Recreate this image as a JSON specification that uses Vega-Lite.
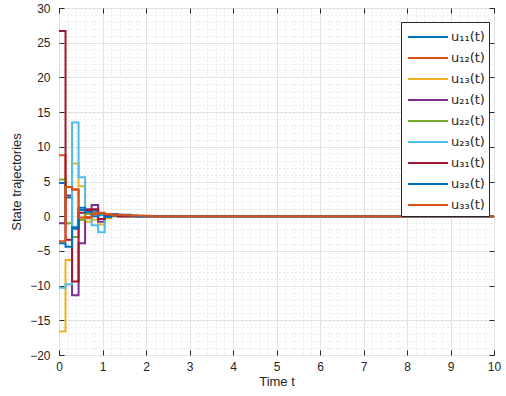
{
  "$schema": "https://vega.github.io/schema/vega-lite/v6.json",
  "width": 435,
  "height": 347,
  "autosize": {"type": "none"},
  "padding": {"left": 59, "top": 8, "right": 12, "bottom": 41},
  "background": "white",
  "config": {
    "font": "Liberation Sans",
    "view": {"stroke": "#262626", "strokeWidth": 1}
  },
  "datasets": {
    "traj": [
      {"s":"u₁₁(t)","t":0,"v":4.8},{"s":"u₁₁(t)","t":0.15,"v":2.7},{"s":"u₁₁(t)","t":0.3,"v":-1.8},{"s":"u₁₁(t)","t":0.45,"v":0.9},{"s":"u₁₁(t)","t":0.6,"v":0.6},{"s":"u₁₁(t)","t":0.75,"v":0.8},{"s":"u₁₁(t)","t":0.9,"v":0.2},{"s":"u₁₁(t)","t":1.05,"v":-0.2},{"s":"u₁₁(t)","t":1.2,"v":0.1},{"s":"u₁₁(t)","t":1.35,"v":0.05},{"s":"u₁₁(t)","t":1.5,"v":0},{"s":"u₁₁(t)","t":10,"v":0},
      {"s":"u₁₂(t)","t":0,"v":8.8},{"s":"u₁₂(t)","t":0.15,"v":4.2},{"s":"u₁₂(t)","t":0.3,"v":3.9},{"s":"u₁₂(t)","t":0.45,"v":-0.5},{"s":"u₁₂(t)","t":0.6,"v":-0.3},{"s":"u₁₂(t)","t":0.75,"v":0.5},{"s":"u₁₂(t)","t":0.9,"v":0.4},{"s":"u₁₂(t)","t":1.05,"v":0.2},{"s":"u₁₂(t)","t":1.2,"v":0.1},{"s":"u₁₂(t)","t":1.35,"v":0.05},{"s":"u₁₂(t)","t":1.5,"v":0},{"s":"u₁₂(t)","t":10,"v":0},
      {"s":"u₁₃(t)","t":0,"v":-16.6},{"s":"u₁₃(t)","t":0.15,"v":-6.3},{"s":"u₁₃(t)","t":0.3,"v":7.6},{"s":"u₁₃(t)","t":0.45,"v":4.3},{"s":"u₁₃(t)","t":0.6,"v":-0.8},{"s":"u₁₃(t)","t":0.75,"v":-0.5},{"s":"u₁₃(t)","t":0.9,"v":-1.2},{"s":"u₁₃(t)","t":1.05,"v":-0.3},{"s":"u₁₃(t)","t":1.2,"v":0.2},{"s":"u₁₃(t)","t":1.35,"v":0.1},{"s":"u₁₃(t)","t":1.5,"v":0},{"s":"u₁₃(t)","t":10,"v":0},
      {"s":"u₂₁(t)","t":0,"v":-1.0},{"s":"u₂₁(t)","t":0.15,"v":3.0},{"s":"u₂₁(t)","t":0.3,"v":-11.4},{"s":"u₂₁(t)","t":0.45,"v":-3.9},{"s":"u₂₁(t)","t":0.6,"v":1.0},{"s":"u₂₁(t)","t":0.75,"v":1.6},{"s":"u₂₁(t)","t":0.9,"v":-0.8},{"s":"u₂₁(t)","t":1.05,"v":0.3},{"s":"u₂₁(t)","t":1.2,"v":0.1},{"s":"u₂₁(t)","t":1.35,"v":0},{"s":"u₂₁(t)","t":10,"v":0},
      {"s":"u₂₂(t)","t":0,"v":5.3},{"s":"u₂₂(t)","t":0.15,"v":-1.0},{"s":"u₂₂(t)","t":0.3,"v":-3.0},{"s":"u₂₂(t)","t":0.45,"v":-0.5},{"s":"u₂₂(t)","t":0.6,"v":0.3},{"s":"u₂₂(t)","t":0.75,"v":0.4},{"s":"u₂₂(t)","t":0.9,"v":0.3},{"s":"u₂₂(t)","t":1.05,"v":0.1},{"s":"u₂₂(t)","t":1.2,"v":0},{"s":"u₂₂(t)","t":10,"v":0},
      {"s":"u₂₃(t)","t":0,"v":-10.3},{"s":"u₂₃(t)","t":0.15,"v":-9.8},{"s":"u₂₃(t)","t":0.3,"v":13.5},{"s":"u₂₃(t)","t":0.45,"v":5.6},{"s":"u₂₃(t)","t":0.6,"v":0.8},{"s":"u₂₃(t)","t":0.75,"v":-1.3},{"s":"u₂₃(t)","t":0.9,"v":-2.3},{"s":"u₂₃(t)","t":1.05,"v":0.2},{"s":"u₂₃(t)","t":1.2,"v":0.1},{"s":"u₂₃(t)","t":1.35,"v":0},{"s":"u₂₃(t)","t":10,"v":0},
      {"s":"u₃₁(t)","t":0,"v":26.7},{"s":"u₃₁(t)","t":0.15,"v":-3.4},{"s":"u₃₁(t)","t":0.3,"v":-9.4},{"s":"u₃₁(t)","t":0.45,"v":0.5},{"s":"u₃₁(t)","t":0.6,"v":0.9},{"s":"u₃₁(t)","t":0.75,"v":1.0},{"s":"u₃₁(t)","t":0.9,"v":-0.4},{"s":"u₃₁(t)","t":1.05,"v":0.2},{"s":"u₃₁(t)","t":1.2,"v":0.1},{"s":"u₃₁(t)","t":1.35,"v":0},{"s":"u₃₁(t)","t":10,"v":0},
      {"s":"u₃₂(t)","t":0,"v":-3.9},{"s":"u₃₂(t)","t":0.15,"v":-4.4},{"s":"u₃₂(t)","t":0.3,"v":-1.6},{"s":"u₃₂(t)","t":0.45,"v":1.2},{"s":"u₃₂(t)","t":0.6,"v":0.6},{"s":"u₃₂(t)","t":0.75,"v":0.0},{"s":"u₃₂(t)","t":0.9,"v":0.4},{"s":"u₃₂(t)","t":1.05,"v":-0.1},{"s":"u₃₂(t)","t":1.2,"v":0.3},{"s":"u₃₂(t)","t":1.35,"v":0.2},{"s":"u₃₂(t)","t":1.5,"v":0.2},{"s":"u₃₂(t)","t":1.65,"v":0.1},{"s":"u₃₂(t)","t":1.8,"v":0},{"s":"u₃₂(t)","t":10,"v":0},
      {"s":"u₃₃(t)","t":0,"v":-3.6},{"s":"u₃₃(t)","t":0.15,"v":4.2},{"s":"u₃₃(t)","t":0.3,"v":3.8},{"s":"u₃₃(t)","t":0.45,"v":-0.2},{"s":"u₃₃(t)","t":0.6,"v":-0.1},{"s":"u₃₃(t)","t":0.75,"v":0.3},{"s":"u₃₃(t)","t":0.9,"v":0.5},{"s":"u₃₃(t)","t":1.05,"v":0.3},{"s":"u₃₃(t)","t":1.2,"v":0.2},{"s":"u₃₃(t)","t":1.35,"v":0.2},{"s":"u₃₃(t)","t":1.5,"v":0.15},{"s":"u₃₃(t)","t":1.65,"v":0.1},{"s":"u₃₃(t)","t":1.8,"v":0.1},{"s":"u₃₃(t)","t":1.95,"v":0.05},{"s":"u₃₃(t)","t":2.1,"v":0},{"s":"u₃₃(t)","t":10,"v":0}
    ]
  },
  "data": {"name": "traj"},
  "resolve": {"axis": {"x": "independent", "y": "independent"}},
  "layer": [
    {
      "mark": {"type": "line", "interpolate": "step-after", "strokeWidth": 2, "clip": true},
      "encoding": {
        "x": {
          "field": "t", "type": "quantitative",
          "scale": {"domain": [0, 10], "nice": false, "zero": false},
          "axis": {
            "title": "Time t", "orient": "bottom",
            "values": [0,0.2,0.4,0.6,0.8,1,1.2,1.4,1.6,1.8,2,2.2,2.4,2.6,2.8,3,3.2,3.4,3.6,3.8,4,4.2,4.4,4.6,4.8,5,5.2,5.4,5.6,5.8,6,6.2,6.4,6.6,6.8,7,7.2,7.4,7.6,7.8,8,8.2,8.4,8.6,8.8,9,9.2,9.4,9.6,9.8,10],
            "labelExpr": "datum.value % 1 == 0 ? format(datum.value, 'd') : ''",
            "domain": false,
            "grid": true,
            "gridColor": {"condition": {"test": "datum.value % 1 == 0", "value": "#e3e3e3"}, "value": "#d6d6d6"},
            "gridDash": {"condition": {"test": "datum.value % 1 == 0", "value": []}, "value": [1, 3]},
            "gridWidth": 1,
            "tickSize": -5,
            "tickColor": "#262626",
            "tickOpacity": {"condition": {"test": "datum.value % 1 == 0", "value": 1}, "value": 0},
            "labelFontSize": 12, "labelColor": "#262626", "labelPadding": 11, "labelFlush": false,
            "titleFontSize": 13, "titleFontWeight": "normal", "titleColor": "#262626", "titlePadding": 3
          }
        },
        "y": {
          "field": "v", "type": "quantitative",
          "scale": {"domain": [-20, 30], "nice": false, "zero": false},
          "axis": {
            "title": "State trajectories", "orient": "left",
            "values": [-20,-19,-18,-17,-16,-15,-14,-13,-12,-11,-10,-9,-8,-7,-6,-5,-4,-3,-2,-1,0,1,2,3,4,5,6,7,8,9,10,11,12,13,14,15,16,17,18,19,20,21,22,23,24,25,26,27,28,29,30],
            "labelExpr": "datum.value % 5 == 0 ? format(datum.value, 'd') : ''",
            "domain": false,
            "grid": true,
            "gridColor": {"condition": {"test": "datum.value % 5 == 0", "value": "#e3e3e3"}, "value": "#d6d6d6"},
            "gridDash": {"condition": {"test": "datum.value % 5 == 0", "value": []}, "value": [1, 3]},
            "gridWidth": 1,
            "tickSize": -5,
            "tickColor": "#262626",
            "tickOpacity": {"condition": {"test": "datum.value % 5 == 0", "value": 1}, "value": 0},
            "labelFontSize": 12, "labelColor": "#262626", "labelPadding": 14,
            "titleFontSize": 13, "titleFontWeight": "normal", "titleColor": "#262626", "titlePadding": 6
          }
        },
        "color": {
          "field": "s", "type": "nominal",
          "scale": {
            "domain": ["u₁₁(t)","u₁₂(t)","u₁₃(t)","u₂₁(t)","u₂₂(t)","u₂₃(t)","u₃₁(t)","u₃₂(t)","u₃₃(t)"],
            "range": ["#0072BD","#D95319","#EDB120","#7E2F8E","#77AC30","#4DBEEE","#A2142F","#0072BD","#D95319"]
          },
          "legend": {
            "title": null,
            "orient": "none",
            "legendX": 342,
            "legendY": 14,
            "fillColor": "white",
            "strokeColor": "#262626",
            "padding": 4,
            "symbolType": "M-0.8,0H3.2",
            "symbolStrokeWidth": 2,
            "symbolSize": 400,
            "rowPadding": 3,
            "labelFontSize": 13,
            "labelFont": "DejaVu Sans",
            "labelColor": "#262626",
            "labelOffset": 24
          }
        }
      }
    },
    {
      "mark": {"type": "line", "opacity": 0},
      "encoding": {
        "x": {
          "field": "t", "type": "quantitative",
          "axis": {"orient": "top", "title": null, "labels": false, "domain": false, "grid": false,
                   "values": [0,1,2,3,4,5,6,7,8,9,10], "tickSize": -5, "tickColor": "#262626"}
        },
        "y": {
          "field": "v", "type": "quantitative",
          "axis": {"orient": "right", "title": null, "labels": false, "domain": false, "grid": false,
                   "values": [-20,-15,-10,-5,0,5,10,15,20,25,30], "tickSize": -5, "tickColor": "#262626"}
        },
        "detail": {"field": "s"}
      }
    }
  ]
}
